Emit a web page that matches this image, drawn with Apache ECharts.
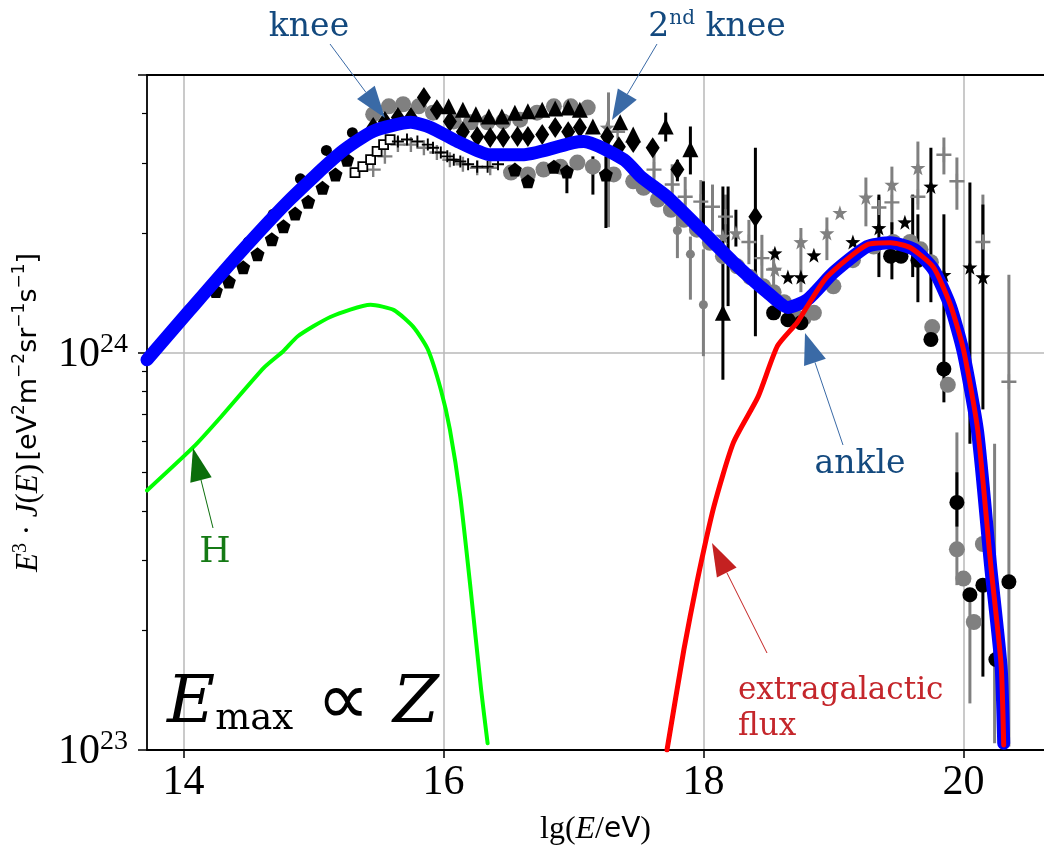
<!DOCTYPE html>
<html>
<head>
<meta charset="utf-8">
<script src="https://cdn.jsdelivr.net/npm/echarts@6/dist/echarts.min.js"></script>
<style>
html, body { margin: 0; background: #fff; }
#chart { width: 1044px; height: 847px; }
</style>
</head>
<body>
<div id="chart"></div>
<script>
// model curves [lg(E/eV), E^3 J(E)]
var totalCurve = [[13.72,0.96e24],[14.05,1.28e24],[14.44,1.79e24],[14.82,2.43e24],[15.21,3.19e24],[15.46,3.61e24],[15.75,3.80e24],[15.9,3.69e24],[16.11,3.40e24],[16.36,3.15e24],[16.62,3.15e24],[17.0,3.38e24],[17.08,3.40e24],[17.39,3.06e24],[17.52,2.77e24],[17.72,2.47e24],[17.98,2.04e24],[18.23,1.69e24],[18.49,1.42e24],[18.65,1.30e24],[18.8,1.36e24],[19.0,1.59e24],[19.26,1.85e24],[19.44,1.89e24],[19.62,1.82e24],[19.77,1.62e24],[19.9,1.31e24],[20.0,1.0e24],[20.11,6.3e23],[20.21,2.89e23],[20.29,1.62e23],[20.31,1.04e23]];
var extraCurve = [[17.72,1.0e23],[17.85,1.79e23],[17.95,2.64e23],[18.08,4.09e23],[18.23,5.93e23],[18.42,7.74e23],[18.57,1.04e24],[18.72,1.19e24],[18.8,1.31e24],[18.95,1.55e24],[19.26,1.87e24],[19.44,1.89e24],[19.59,1.84e24],[19.77,1.64e24],[19.9,1.32e24],[20.0,1.02e24],[20.11,6.4e23],[20.21,2.93e23],[20.29,1.64e23],[20.31,1.03e23]];
var hydrogenCurve = [[13.72,4.5e23],[14.08,5.8e23],[14.29,6.9e23],[14.62,9.17e23],[14.77,1.01e24],[14.88,1.10e24],[15.13,1.23e24],[15.44,1.32e24],[15.62,1.28e24],[15.77,1.16e24],[15.88,1.02e24],[15.98,8.08e23],[16.05,6.4e23],[16.13,4.34e23],[16.21,2.53e23],[16.29,1.42e23],[16.34,1.04e23]];

// measurements
var grayCircles = [[15.46,3.98e24],[15.58,4.17e24],[15.69,4.22e24],[15.81,4.17e24],[15.92,4.02e24],[16.08,3.82e24],[16.21,3.80e24],[16.34,3.80e24],[16.46,3.82e24],[16.59,3.86e24],[16.72,4.02e24],[16.85,4.17e24],[16.98,4.17e24],[17.11,4.14e24],
  [16.52,2.84e24],[16.65,2.81e24],[16.77,2.89e24],[16.9,2.94e24],[17.03,3.01e24],[17.15,2.94e24],[17.31,2.81e24],[17.46,2.70e24],[17.54,2.60e24],[17.65,2.43e24],[17.75,2.29e24],[17.85,2.16e24],[17.95,2.04e24],[18.05,1.89e24],[18.15,1.75e24],[18.26,1.65e24],[18.36,1.55e24],[18.46,1.47e24],[18.54,1.42e24],[18.62,1.34e24],[18.69,1.26e24],[18.77,1.22e24],[18.85,1.26e24],[19.0,1.47e24],[19.15,1.71e24],[19.31,1.85e24],[19.46,1.90e24],[19.59,1.90e24],[19.67,1.82e24],[19.75,1.69e24],
  [19.76,1.16e24],[19.88,8.3e23],[19.95,3.2e23],[20.0,2.7e23],[20.08,2.1e23],[20.15,3.3e23]];
var graySmallDots = [[17.8,2.03e24],[17.9,1.77e24],[18.0,1.32e24]];
var grayPlus = [[15.46,2.89e24],[15.55,3.12e24],[15.65,3.34e24],[15.75,3.34e24],[15.85,3.28e24],[15.95,3.19e24],[16.05,3.06e24],[16.15,2.98e24],[16.26,2.92e24],[16.36,2.92e24],
  [17.34,3.60e24],[17.62,2.89e24],[17.76,2.65e24],[17.86,2.47e24],[17.98,2.40e24],[18.07,2.33e24],[18.17,2.20e24],[18.35,1.90e24],[18.45,1.73e24],[18.54,1.62e24],[19.35,2.32e24],[19.45,2.39e24],[19.65,2.47e24],[19.85,3.15e24],[19.95,2.70e24],[20.15,1.90e24],[20.35,8.45e23]];
var grayStars = [[17.26,3.69e24],[18.15,1.96e24],[18.25,2.00e24],[18.55,1.62e24],[18.75,1.90e24],[18.95,2.00e24],[19.05,2.25e24],[19.25,2.46e24],[19.45,2.65e24],[19.65,2.92e24]];
var blackDots = [[14.5,1.90e24],[14.69,2.23e24],[14.9,2.74e24],[15.1,3.23e24],[15.3,3.58e24]];
var blackCircles = [[18.54,1.26e24],[18.65,1.21e24],[18.75,1.19e24],[19.44,1.75e24],[19.52,1.75e24],[19.65,1.71e24],[19.75,1.08e24],[19.85,9.1e23],[19.95,4.2e23],[20.05,2.46e23],[20.15,2.6e23],[20.25,1.69e23],[20.35,2.65e23]];
var blackPentagons = [[14.25,1.43e24],[14.35,1.51e24],[14.46,1.64e24],[14.57,1.77e24],[14.68,1.93e24],[14.77,2.08e24],[14.86,2.24e24],[14.96,2.40e24],[15.07,2.60e24],[15.17,2.81e24],[15.26,3.06e24],
  [16.55,2.89e24],[16.65,2.70e24],[16.85,2.94e24],[16.95,2.86e24],[17.25,2.81e24]];
var blackDiamonds = [[15.46,3.69e24],[15.55,3.82e24],[15.65,3.91e24],[15.75,3.91e24],[15.85,4.39e24],[15.95,4.09e24],[16.05,3.82e24],[16.15,3.60e24],[16.26,3.50e24],[16.36,3.48e24],[16.46,3.48e24],[16.57,3.50e24],[16.65,3.50e24],[16.76,3.54e24],[16.86,3.69e24],[16.96,3.60e24],[17.05,3.69e24],[17.26,3.50e24],[17.35,3.30e24],[17.46,3.38e24],[17.61,3.28e24],[17.8,2.89e24],[18.4,2.20e24]];
var blackTriangles = [[16.04,4.17e24],[16.15,4.09e24],[16.25,3.98e24],[16.35,3.93e24],[16.45,3.93e24],[16.55,4.02e24],[16.65,4.05e24],[16.76,4.09e24],[16.86,4.12e24],[16.96,4.14e24],[17.05,4.09e24],[17.15,3.71e24],[17.36,3.80e24],[17.46,3.54e24],[17.71,3.71e24],[17.9,3.25e24],[18.15,1.26e24]];
var openSquares = [[15.32,2.84e24],[15.38,2.94e24],[15.44,3.06e24],[15.49,3.21e24],[15.54,3.34e24],[15.59,3.44e24]];
var blackPlus = [[15.65,3.40e24],[15.72,3.44e24],[15.8,3.40e24],[15.88,3.34e24],[15.92,3.28e24],[15.98,3.19e24],[16.03,3.12e24],[16.08,3.06e24],[16.13,3.03e24],[16.19,2.98e24],[16.26,2.94e24],[16.34,2.94e24],[16.42,2.98e24]];
var blackStars = [[18.55,1.78e24],[18.65,1.55e24],[18.75,1.55e24],[18.85,1.76e24],[19.15,1.90e24],[19.35,2.06e24],[19.55,2.13e24],[19.75,2.62e24],[19.85,1.57e24],[20.05,1.64e24],[20.15,1.55e24]];

// error bars [lg(E/eV), upper, lower]
var blackErr = [[16.95,2.86e24,2.52e24],[17.15,3.12e24,2.50e24],[17.25,3.12e24,2.06e24],[17.71,4.02e24,3.40e24],[17.8,3.06e24,2.70e24],[17.9,3.71e24,2.81e24],[18.0,2.70e24,2.00e24],[18.15,2.62e24,0.855e24],[18.19,2.62e24,1.31e24],[18.25,2.29e24,1.85e24],[18.4,3.28e24,1.10e24],
  [19.35,2.50e24,1.55e24],[19.45,2.13e24,1.53e24],[19.61,2.50e24,1.55e24],[19.65,2.23e24,1.34e24],[19.75,3.28e24,1.34e24],[19.85,2.23e24,0.75e24],[19.95,0.50e24,0.365e24],[20.05,2.68e24,0.59e24],[20.15,2.36e24,0.72e24],[20.15,0.263e24,0.153e24]];
var grayErr = [[17.27,4.52e24,2.07e24],[17.62,3.25e24,2.57e24],[17.76,2.98e24,2.36e24],[17.8,2.43e24,1.73e24],[17.86,2.77e24,2.20e24],[17.9,1.96e24,1.36e24],[17.98,2.72e24,2.04e24],[18.0,1.82e24,0.98e24],[18.07,2.65e24,2.02e24],[18.17,2.50e24,1.93e24],[18.35,2.16e24,1.67e24],[18.45,1.98e24,1.53e24],[18.54,1.82e24,1.44e24],[18.75,2.06e24,1.42e24],[18.95,2.19e24,1.71e24],
  [19.25,2.76e24,2.08e24],[19.35,2.47e24,2.07e24],[19.45,2.94e24,2.04e24],[19.65,3.40e24,2.29e24],[19.85,3.48e24,2.81e24],[19.95,3.10e24,2.29e24],[19.95,0.63e24,0.26e24],[20.05,0.25e24,0.131e24],[20.15,2.50e24,1.6e24],[20.24,0.59e24,0.104e24],[20.35,1.57e24,0.102e24]];

// axis ticks
var xTicks = [14, 16, 18, 20];
var yMinorTicks = [2e23,3e23,4e23,5e23,6e23,7e23,8e23,9e23,2e24,3e24,4e24];

var PENTAGON = 'path://M0,-10 L9.51,-3.09 L5.88,8.09 L-5.88,8.09 L-9.51,-3.09 Z';
var STAR = 'path://M0,-10 L2.35,-3.24 L9.51,-3.09 L3.8,1.24 L5.88,8.09 L0,4 L-5.88,8.09 L-3.8,1.24 L-9.51,-3.09 L-2.35,-3.24 Z';
var PLUS = 'path://M-1.6,-10 L1.6,-10 L1.6,-1.6 L10,-1.6 L10,1.6 L1.6,1.6 L1.6,10 L-1.6,10 L-1.6,1.6 L-10,1.6 L-10,-1.6 L-1.6,-1.6 Z';

var serif = 'Liberation Serif';
var sans = 'DejaVu Sans';

var myChart = echarts.init(document.getElementById('chart'));

function errSeries(data, color) {
  return {
    type: 'custom',
    data: data,
    encode: { x: 0, y: [1, 2] },
    itemStyle: { color: color },
    silent: true,
    renderItem: function (params, api) {
      var p1 = api.coord([api.value(0), api.value(1)]);
      var p2 = api.coord([api.value(0), api.value(2)]);
      return {
        type: 'line',
        shape: { x1: p1[0], y1: p1[1], x2: p2[0], y2: p2[1] },
        style: { stroke: color, lineWidth: 3 }
      };
    }
  };
}

function scat(data, symbol, size, color, extra) {
  var s = {
    type: 'scatter',
    data: data,
    symbol: symbol,
    symbolSize: size,
    itemStyle: { color: color, opacity: 1 },
    silent: true
  };
  if (extra) Object.assign(s.itemStyle, extra);
  return s;
}

function curve(data, color, width) {
  return {
    type: 'line',
    data: data,
    symbol: 'none',
    smooth: 0.2,
    silent: true,
    lineStyle: { color: color, width: width, join: 'round', cap: 'round' }
  };
}

function arrow(x1, y1, x2, y2, color, len, w) {
  var dx = x2 - x1, dy = y2 - y1;
  var d = Math.sqrt(dx * dx + dy * dy);
  var ux = dx / d, uy = dy / d;
  var bx = x2 - ux * len, by = y2 - uy * len;
  return [
    { type: 'line', z: 100, shape: { x1: x1, y1: y1, x2: bx, y2: by }, style: { stroke: color, lineWidth: 1 } },
    { type: 'polygon', z: 100, shape: { points: [[x2, y2], [bx - uy * w / 2, by + ux * w / 2], [bx + uy * w / 2, by - ux * w / 2]] }, style: { fill: color } }
  ];
}

var navy = '#13497e';
var steel = '#3a6aa6';

var graphics = [].concat(
  arrow(330, 44, 385, 118, steel, 32, 22),
  arrow(657, 44, 612, 120, steel, 30, 22),
  arrow(843, 445, 805, 333, steel, 31, 23),
  arrow(213, 528, 193, 448, '#0b6e0b', 33, 22),
  arrow(767, 653, 712, 543, '#c42121', 33, 22),
  [
    { type: 'text', z: 100, x: 309, y: 27, style: { text: 'knee', fontFamily: 'DejaVu Serif', fontSize: 33, fill: navy, align: 'center', verticalAlign: 'middle' } },
    { type: 'text', z: 100, x: 717, y: 27, style: {
      text: '{a|2}{s|nd}{a| knee}', align: 'center', verticalAlign: 'middle',
      rich: {
        a: { fontFamily: 'DejaVu Serif', fontSize: 33, fill: navy, lineHeight: 36 },
        s: { fontFamily: 'DejaVu Serif', fontSize: 20, fill: navy, lineHeight: 22, verticalAlign: 'top' }
      } } },
    { type: 'text', z: 100, x: 860, y: 464, style: { text: 'ankle', fontFamily: 'DejaVu Serif', fontSize: 33, fill: navy, align: 'center', verticalAlign: 'middle' } },
    { type: 'text', z: 100, x: 215, y: 553, style: { text: 'H', fontFamily: 'DejaVu Serif', fontSize: 36, fill: '#157a15', align: 'center', verticalAlign: 'middle' } },
    { type: 'text', z: 100, x: 738, y: 691, style: { text: 'extragalactic', fontFamily: 'DejaVu Serif', fontSize: 31, fill: '#c4262b', align: 'left', verticalAlign: 'middle' } },
    { type: 'text', z: 100, x: 738, y: 727, style: { text: 'flux', fontFamily: 'DejaVu Serif', fontSize: 31, fill: '#c4262b', align: 'left', verticalAlign: 'middle' } },
    { type: 'text', z: 100, x: 167, y: 705, style: {
      text: '{e|E}{m|max}{p| \u221d }{e|Z}', align: 'left', verticalAlign: 'middle',
      rich: {
        e: { fontFamily: 'DejaVu Serif', fontStyle: 'italic', fontSize: 66, lineHeight: 66, fill: '#000' },
        m: { fontFamily: 'DejaVu Serif', fontSize: 37, lineHeight: 36, verticalAlign: 'bottom', fill: '#000' },
        p: { fontFamily: 'DejaVu Sans', fontSize: 74, lineHeight: 66, fill: '#000' }
      } } }
  ]
);

var option = {
  animation: false,
  backgroundColor: '#fff',
  grid: { left: 147, right: 0, top: 75, bottom: 97, outerBoundsMode: 'none' },
  xAxis: [
    {
      type: 'value', min: 13.72, max: 20.62,
      name: '{n|lg(}{i|E}{n|/}{sf|eV}{n|)}',
      nameLocation: 'middle', nameGap: 64,
      nameTextStyle: {
        rich: {
          n: { fontFamily: serif, fontSize: 32, color: '#000' },
          i: { fontFamily: serif, fontStyle: 'italic', fontSize: 32, color: '#000' },
          sf: { fontFamily: sans, fontSize: 28, color: '#000' }
        }
      },
      axisLine: { lineStyle: { color: '#000', width: 1.8 } },
      axisTick: { customValues: xTicks, length: 8, lineStyle: { color: '#000', width: 1.5 } },
      axisLabel: { customValues: xTicks, margin: 12, fontFamily: serif, fontSize: 42, color: '#000' },
      splitLine: { show: true, lineStyle: { color: '#b8b8b8', width: 1.5 } }
    },
    {
      type: 'value', position: 'top', min: 13.72, max: 20.62,
      axisLine: { show: true, lineStyle: { color: '#000', width: 1.8 } },
      axisTick: { show: false }, axisLabel: { show: false }, splitLine: { show: false }
    }
  ],
  yAxis: [
    {
      type: 'log', logBase: 10, min: 1e23, max: 5e24,
      name: '{i|E}{s|3}{n| \u00b7 }{i|J}{n|(}{i|E}{n|)} {sf|[eV}{ss|2}{sf|m}{ss|\u22122}{sf|sr}{ss|\u22121}{sf|s}{ss|\u22121}{sf|]}',
      nameLocation: 'middle', nameGap: 100, nameRotate: 90,
      nameTextStyle: {
        rich: {
          i: { fontFamily: serif, fontStyle: 'italic', fontSize: 31, lineHeight: 36, color: '#000' },
          n: { fontFamily: serif, fontSize: 31, lineHeight: 36, color: '#000' },
          s: { fontFamily: serif, fontSize: 20, lineHeight: 18, verticalAlign: 'top', color: '#000' },
          sf: { fontFamily: sans, fontSize: 27, lineHeight: 36, color: '#000' },
          ss: { fontFamily: sans, fontSize: 17, lineHeight: 18, verticalAlign: 'top', color: '#000' }
        }
      },
      axisLine: { show: true, lineStyle: { color: '#000', width: 1.8 } },
      axisTick: { show: true, length: 9, lineStyle: { color: '#000', width: 1.5 } },
      axisLabel: {
        margin: 19,
        formatter: function (v) {
          var e = Math.log10(v);
          if (Math.abs(e - Math.round(e)) > 1e-6) return '';
          return '{b|10}{s|' + Math.round(e) + '}';
        },
        rich: {
          b: { fontFamily: serif, fontSize: 42, lineHeight: 44, color: '#000', padding: [4, 0, 0, 0] },
          s: { fontFamily: serif, fontSize: 28, lineHeight: 24, verticalAlign: 'top', color: '#000' }
        }
      },
      splitLine: { show: true, lineStyle: { color: '#b8b8b8', width: 1.5 } }
    },
    {
      type: 'log', logBase: 10, min: 1e23, max: 5e24, position: 'left',
      axisLine: { show: false },
      axisTick: { show: true, customValues: yMinorTicks, length: 5, lineStyle: { color: '#000', width: 1.2 } },
      axisLabel: { show: false },
      splitLine: { show: false }
    }
  ],
  graphic: graphics,
  series: [
    errSeries(grayErr, '#808080'),
    errSeries(blackErr, '#000000'),
    scat(grayCircles, 'circle', 16, '#808080'),
    scat(graySmallDots, 'circle', 9, '#808080'),
    scat(grayPlus, PLUS, 15, '#808080'),
    scat(grayStars, STAR, 15, '#808080'),
    scat(blackDots, 'circle', 11, '#000000'),
    scat(blackCircles, 'circle', 15, '#000000'),
    scat(blackPentagons, PENTAGON, 14, '#000000'),
    scat(blackDiamonds, 'diamond', [14, 21], '#000000'),
    scat(blackTriangles, 'triangle', 16, '#000000'),
    scat(openSquares, 'rect', 9, '#ffffff', { borderColor: '#000', borderWidth: 1.8 }),
    scat(blackPlus, PLUS, 12, '#000000'),
    scat(blackStars, STAR, 15, '#000000'),
    curve(hydrogenCurve, '#00ff00', 4),
    curve(totalCurve, '#0000ff', 13),
    curve(extraCurve, '#ff0000', 5)
  ]
};

myChart.setOption(option);
window.addEventListener('resize', function () {
  myChart.resize();
});
</script>
</body>
</html>
